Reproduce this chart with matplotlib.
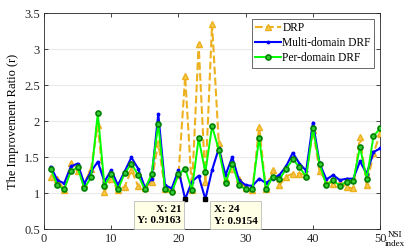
import numpy as np
import matplotlib.pyplot as plt

plt.rcParams['font.family'] = ['Liberation Serif', 'DejaVu Serif']

# NSI index
nsi = np.arange(1, 51)

drp = [1.23, 1.20, 1.04, 1.42, 1.30, 1.13, 1.34, 1.94, 1.02, 1.19,
       1.04, 1.09, 1.32, 1.10, 1.065, 1.16, 1.70, 1.05, 1.05, 1.25,
       2.62, 1.04, 3.07, 1.16, 3.35, 1.69, 1.20, 1.34, 1.20, 1.065,
       1.04, 1.92, 1.05, 1.32, 1.11, 1.23, 1.27, 1.27, 1.25, 1.87,
       1.30, 1.16, 1.13, 1.16, 1.08, 1.065, 1.78, 1.11, 1.55, 1.83]

multi_drf = [1.366, 1.18, 1.134, 1.37, 1.41, 1.13, 1.30, 1.435, 1.157, 1.32,
             1.11, 1.30, 1.495, 1.34, 1.08, 1.20, 2.10, 1.11, 1.065, 1.32,
             0.9163, 1.16, 1.24, 0.9154, 1.32, 1.62, 1.25, 1.50, 1.18, 1.11,
             1.10, 1.20, 1.14, 1.20, 1.25, 1.37, 1.56, 1.41, 1.31, 1.98,
             1.41, 1.19, 1.25, 1.18, 1.20, 1.20, 1.44, 1.27, 1.57, 1.62]

per_drf = [1.335, 1.11, 1.05, 1.305, 1.356, 1.065, 1.218, 2.106, 1.097, 1.264,
           1.05, 1.273, 1.41, 1.25, 1.05, 1.264, 1.96, 1.05, 1.01, 1.26,
           1.34, 1.04, 1.76, 1.29, 1.93, 1.60, 1.14, 1.41, 1.11, 1.05,
           1.05, 1.77, 1.05, 1.22, 1.19, 1.33, 1.47, 1.36, 1.225, 1.90,
           1.40, 1.11, 1.18, 1.10, 1.16, 1.17, 1.64, 1.19, 1.79, 1.90]

tips = [21, 24]

fig = plt.figure(figsize=(4.11, 2.52), dpi=100)
ax = fig.add_axes([0.107, 0.091, 0.818, 0.857])

orange = '#EDB120'
ax.plot(nsi, drp, '--', color=orange, lw=1.5, marker='^', ms=4,
        mfc='#F5C84A', mec=orange, label='DRP', zorder=3)
ax.plot(nsi, multi_drf, '-', color='#0000FF', lw=1.5, marker='.', ms=3.5,
        label='Multi-domain DRF', zorder=4)
ax.plot(nsi, per_drf, '-', color='#00FF00', lw=1.4, marker='o', ms=3.6,
        mfc='#33CC33', mec='#007F00', mew=1.2, label='Per-domain DRF', zorder=5)

# data tips
for i, xv in enumerate(tips):
    yv = multi_drf[xv - 1]
    ax.plot(xv, yv, 's', color='black', ms=3.5, zorder=7, clip_on=False)
    txt = 'X: %d\nY: %.4f' % (xv, yv)
    if i == 0:
        ax.annotate(txt, (xv, yv), xytext=(-3, -4), textcoords='offset points',
                    ha='right', va='top', fontsize=8, fontweight='bold',
                    linespacing=1.4, zorder=8,
                    bbox=dict(boxstyle='square,pad=0.3', fc='#FFFFE6', ec='#BBBBBB', lw=0.6))
    else:
        ax.annotate(txt, (xv, yv), xytext=(6, -4), textcoords='offset points',
                    ha='left', va='top', fontsize=8, fontweight='bold',
                    linespacing=1.4, zorder=8,
                    bbox=dict(boxstyle='square,pad=0.3', fc='#FFFFE6', ec='#BBBBBB', lw=0.6))

ax.set_xlim(0, 50)
ax.set_ylim(0.5, 3.5)
ax.set_xticks(np.arange(0, 51, 10))
ax.set_yticks(np.arange(0.5, 3.6, 0.5))
ax.set_yticklabels(['0.5', '1', '1.5', '2', '2.5', '3', '3.5'])
ax.yaxis.grid(True, color='#EBEBEB', lw=0.8)
ax.set_axisbelow(True)
ax.tick_params(direction='in', top=True, right=True, labelsize=9,
               length=3, width=0.6, colors='#262626', pad=3)
for s in ax.spines.values():
    s.set_color('#262626')
    s.set_linewidth(0.6)

ax.set_ylabel('The Improvement Ratio (r)', fontsize=9, labelpad=4)
fig.text(0.962, 0.016, 'NSI\nindex', ha='center', va='bottom', fontsize=6.5,
         linespacing=1.1)

leg = ax.legend(loc='upper right', fontsize=8.3, frameon=True, fancybox=False,
                edgecolor='#262626', borderpad=0.3, labelspacing=0.25,
                handlelength=2.2, handletextpad=0.15, borderaxespad=0.5)
leg.get_frame().set_linewidth(0.6)

fig.savefig('out.png', dpi=100)
